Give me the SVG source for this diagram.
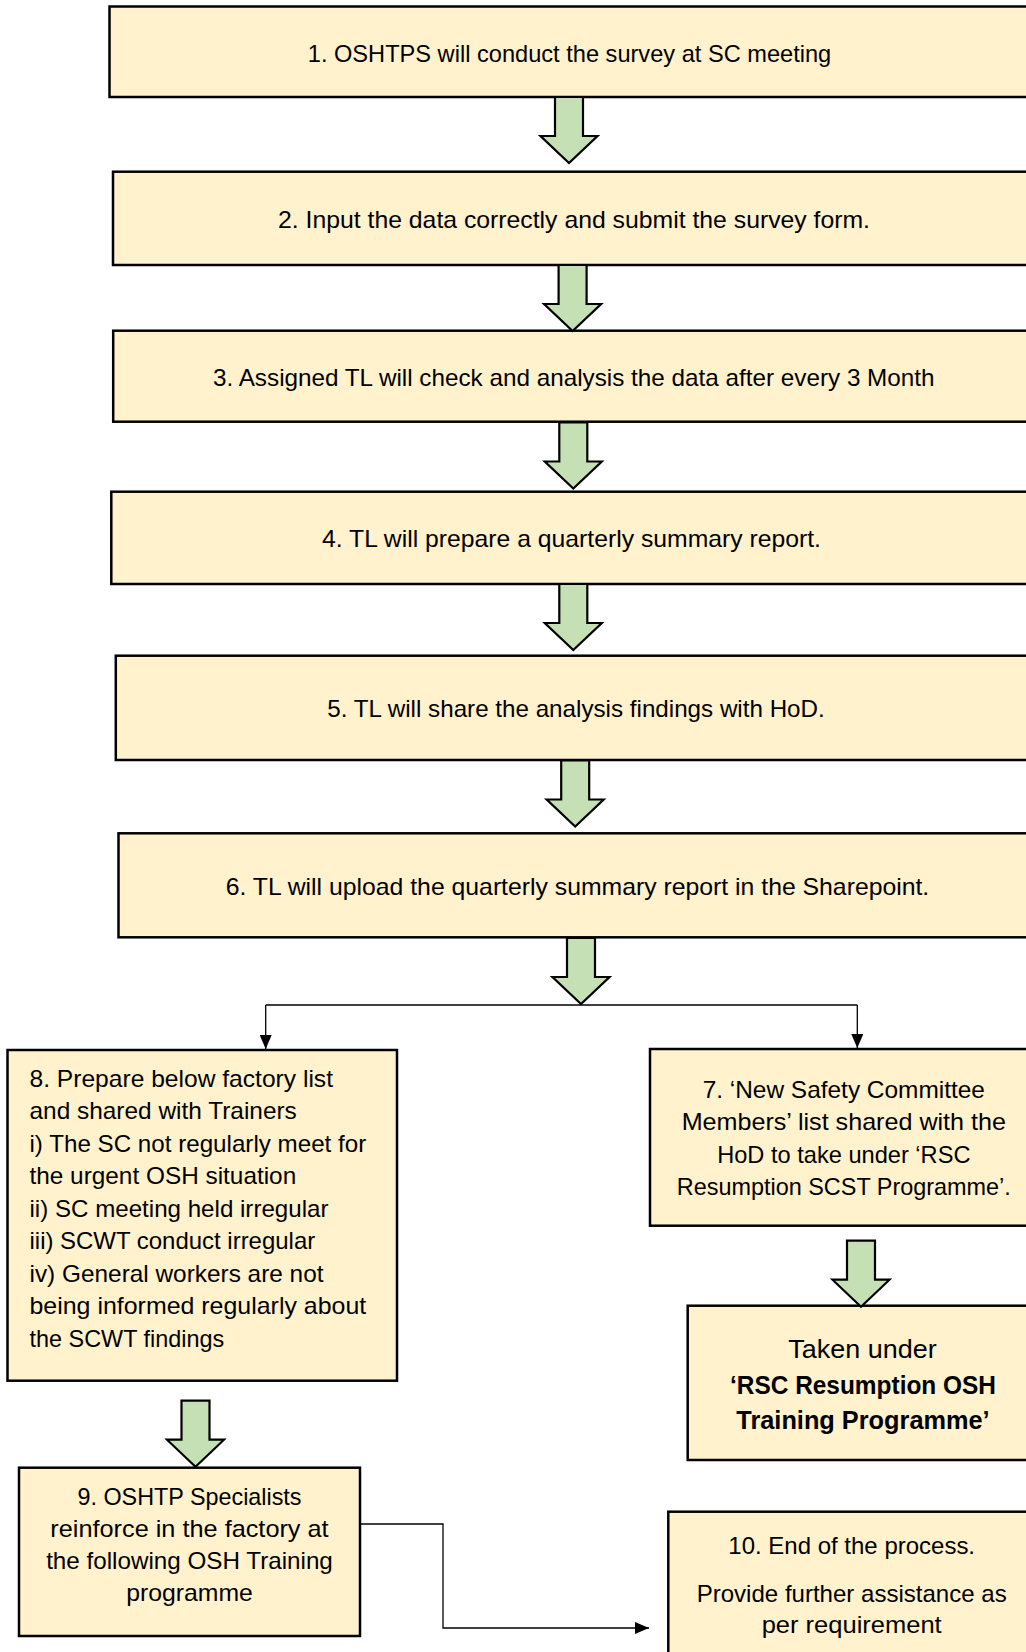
<svg xmlns="http://www.w3.org/2000/svg" xmlns:xlink="http://www.w3.org/1999/xlink" width="1026" height="1652" viewBox="0 0 1026 1652">
<style>
.box{fill:#FFF2CC;stroke:#000;stroke-width:2.5}
.big{fill:#C5E0B4;stroke:#000;stroke-width:2.2;stroke-linejoin:miter}
.t{font-family:"Liberation Sans",Arial,sans-serif;font-size:24px;fill:#000}
.s{font-family:"Liberation Sans",Arial,sans-serif;font-size:24px;fill:#000}
.c{text-anchor:middle}
.line{fill:none;stroke:#000;stroke-width:1.3}
</style>
<defs>
<path id="bigArrow" d="M-14,0 H14 V39 H28.5 L0,66 L-28.5,39 H-14 Z"/>
<marker id="ah" viewBox="0 0 14 12" refX="14" refY="6" markerWidth="14" markerHeight="12" markerUnits="userSpaceOnUse" orient="auto">
<path d="M0,0 L14,6 L0,12 Z" fill="#000"/>
</marker>
</defs>
<rect width="1026" height="1652" fill="#fff"/>

<g id="node1"><rect class="box" x="109.5" y="6.5" width="926.5" height="90.5"/><text class="t c" x="569.5" y="62" textLength="523.5" lengthAdjust="spacingAndGlyphs">1. OSHTPS will conduct the survey at SC meeting</text></g>
<g id="node2"><rect class="box" x="113" y="171.7" width="923" height="93.3"/><text class="t c" x="574" y="228" textLength="592" lengthAdjust="spacingAndGlyphs">2. Input the data correctly and submit the survey form.</text></g>
<g id="node3"><rect class="box" x="113.2" y="330.7" width="922.8" height="91"/><text class="t c" x="573.8" y="386" textLength="721.5" lengthAdjust="spacingAndGlyphs">3. Assigned TL will check and analysis the data after every 3 Month</text></g>
<g id="node4"><rect class="box" x="111.3" y="491.7" width="924.7" height="92.3"/><text class="t c" x="571.5" y="547" textLength="499" lengthAdjust="spacingAndGlyphs">4. TL will prepare a quarterly summary report.</text></g>
<g id="node5"><rect class="box" x="115.8" y="655.7" width="920.2" height="104.3"/><text class="t c" x="576" y="717" textLength="497.5" lengthAdjust="spacingAndGlyphs">5. TL will share the analysis findings with HoD.</text></g>
<g id="node6"><rect class="box" x="118.5" y="833.3" width="917.5" height="104"/><text class="t c" x="577.5" y="895" textLength="703.5" lengthAdjust="spacingAndGlyphs">6. TL will upload the quarterly summary report in the Sharepoint.</text></g>

<g id="node8"><rect class="box" x="7.5" y="1050" width="389.5" height="330.7"/>
<text class="s" x="29.5" y="1086.5" textLength="303.5" lengthAdjust="spacingAndGlyphs">8. Prepare below factory list</text>
<text class="s" x="29.5" y="1119" textLength="267.3" lengthAdjust="spacingAndGlyphs">and shared with Trainers</text>
<text class="s" x="29.5" y="1151.5" textLength="336.7" lengthAdjust="spacingAndGlyphs">i) The SC not regularly meet for</text>
<text class="s" x="29.5" y="1184" textLength="266.7" lengthAdjust="spacingAndGlyphs">the urgent OSH situation</text>
<text class="s" x="29.5" y="1216.5" textLength="299" lengthAdjust="spacingAndGlyphs">ii) SC meeting held irregular</text>
<text class="s" x="29.5" y="1249" textLength="285.7" lengthAdjust="spacingAndGlyphs">iii) SCWT conduct irregular</text>
<text class="s" x="29.5" y="1281.5" textLength="294" lengthAdjust="spacingAndGlyphs">iv) General workers are not</text>
<text class="s" x="29.5" y="1314" textLength="336.7" lengthAdjust="spacingAndGlyphs">being informed regularly about</text>
<text class="s" x="29.5" y="1346.5" textLength="194.7" lengthAdjust="spacingAndGlyphs">the SCWT findings</text>
</g>

<g id="node7"><rect class="box" x="650" y="1049" width="387" height="176.7"/>
<text class="s c" x="843.8" y="1098" textLength="282.3" lengthAdjust="spacingAndGlyphs">7. ‘New Safety Committee</text>
<text class="s c" x="843.8" y="1130" textLength="324.3" lengthAdjust="spacingAndGlyphs">Members’ list shared with the</text>
<text class="s c" x="843.8" y="1162.5" textLength="253.3" lengthAdjust="spacingAndGlyphs">HoD to take under ‘RSC</text>
<text class="s c" x="843.8" y="1195" textLength="334" lengthAdjust="spacingAndGlyphs">Resumption SCST Programme’.</text>
</g>

<g id="nodeTaken"><rect class="box" x="687.7" y="1305.7" width="349.3" height="154.3"/>
<text class="c" x="862.5" y="1358" textLength="148.3" lengthAdjust="spacingAndGlyphs" style="font-family:'Liberation Sans',Arial,sans-serif;font-size:26px">Taken under</text>
<text class="c" x="863" y="1393.5" textLength="266" lengthAdjust="spacingAndGlyphs" style="font-family:'Liberation Sans',Arial,sans-serif;font-size:25px;font-weight:bold">‘RSC Resumption OSH</text>
<text class="c" x="863" y="1429" textLength="253.3" lengthAdjust="spacingAndGlyphs" style="font-family:'Liberation Sans',Arial,sans-serif;font-size:25px;font-weight:bold">Training Programme’</text>
</g>

<g id="node9"><rect class="box" x="19" y="1467.7" width="341" height="168.3"/>
<text class="s c" x="189.5" y="1504.5" textLength="224" lengthAdjust="spacingAndGlyphs">9. OSHTP Specialists</text>
<text class="s c" x="189.5" y="1536.5" textLength="278.3" lengthAdjust="spacingAndGlyphs">reinforce in the factory at</text>
<text class="s c" x="189.5" y="1568.5" textLength="286.7" lengthAdjust="spacingAndGlyphs">the following OSH Training</text>
<text class="s c" x="189.5" y="1600.5" textLength="126.7" lengthAdjust="spacingAndGlyphs">programme</text>
</g>

<g id="node10"><rect class="box" x="668.3" y="1511.7" width="367.7" height="150"/>
<text class="s c" x="851.7" y="1553.5" textLength="246.7" lengthAdjust="spacingAndGlyphs">10. End of the process.</text>
<text class="s c" x="851.7" y="1601.5" textLength="310" lengthAdjust="spacingAndGlyphs">Provide further assistance as</text>
<text class="s c" x="851.7" y="1633.3" textLength="180" lengthAdjust="spacingAndGlyphs">per requirement</text>
</g>

<g id="connectors">
<use xlink:href="#bigArrow" class="big" transform="translate(569,97)"/>
<use xlink:href="#bigArrow" class="big" transform="translate(572.6,265)"/>
<use xlink:href="#bigArrow" class="big" transform="translate(573.3,422.5)"/>
<use xlink:href="#bigArrow" class="big" transform="translate(573.3,584)"/>
<use xlink:href="#bigArrow" class="big" transform="translate(575.2,760.5)"/>
<use xlink:href="#bigArrow" class="big" transform="translate(581,938)"/>
<use xlink:href="#bigArrow" class="big" transform="translate(861,1240.7)"/>
<use xlink:href="#bigArrow" class="big" transform="translate(195.5,1400.7)"/>
<path class="line" d="M265.7,1005 H857.3"/>
<path class="line" d="M265.7,1005 V1049" marker-end="url(#ah)"/>
<path class="line" d="M857.3,1005 V1048" marker-end="url(#ah)"/>
<path class="line" d="M360,1524 H443 V1628 H649" marker-end="url(#ah)"/>
</g>
</svg>
